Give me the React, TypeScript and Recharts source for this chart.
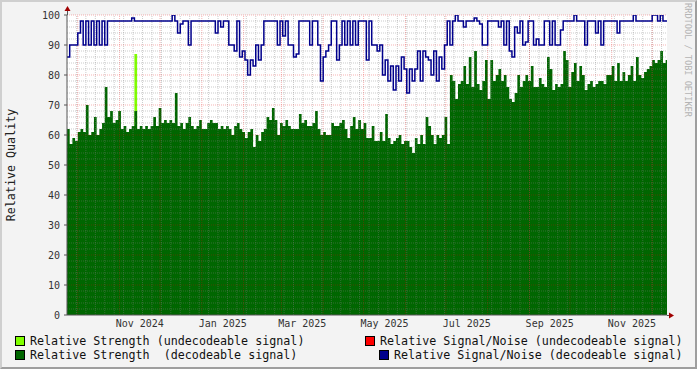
import { ComposedChart, Area, Line, XAxis, YAxis, ReferenceLine } from "recharts";

const DAY = 86400000;
const START = Date.UTC(2024, 8, 23);
const STEP_DAYS = 2;
const END = START + 445 * DAY;

// relative strength, decodeable signal (one value every 2 days)
const strength = [
  62, 57, 59, 58, 61, 62, 61, 70, 60, 61, 66, 60, 62, 64, 76, 66, 68, 64, 65, 68,
  62, 63, 61, 62, 63, 68, 62, 63, 62, 63, 62, 63, 66, 63, 69, 64, 65, 64, 65, 64,
  74, 63, 64, 62, 64,
  66, 63, 62, 63, 65, 62, 62, 64, 65, 64, 64, 62, 63, 62, 63, 62, 60, 63, 64, 62,
  61, 59, 61, 62, 56, 60, 58, 61, 62, 66, 65, 69, 65, 60, 64, 63, 65, 63, 62, 62,
  62, 67, 64, 65, 63,
  63, 64, 68, 62, 60, 61, 60, 60, 64, 63, 63, 64, 65, 62, 59, 63, 66, 62, 65, 62,
  64, 59, 59, 63, 58, 58, 61, 58, 67, 59, 57, 58, 59, 60, 57, 58, 58, 56, 54, 59,
  57, 60, 57, 66,
  63, 60, 57, 60, 59, 60, 66, 57, 80, 78, 72, 77, 78, 83, 77, 86, 76, 88, 77, 75,
  78, 85, 72, 85, 78, 80, 82, 78, 80, 76, 72, 71, 74, 80, 76, 78, 80, 78, 83, 76,
  76, 79, 77, 76,
  86, 82, 75, 77, 76, 77, 88, 85, 76, 81, 84, 78, 83, 80, 75, 77, 78, 76, 77, 78,
  78, 77, 80, 80, 83, 78, 84, 78, 81, 78, 80, 83, 78, 86, 80, 79, 81, 82, 83, 85,
  84, 85, 88, 84, 85,
];

// relative signal/noise, decodeable signal
const snr = [
  86, 90, 90, 90, 94, 98, 90, 98, 90, 98, 90, 98, 90, 98, 90, 98, 98, 98, 98, 98,
  98, 98, 98, 98, 99, 98, 98, 98, 98, 98, 98, 98, 98, 98, 98, 98, 98, 98, 98, 100,
  98, 94, 97, 98, 98,
  90, 98, 98, 98, 98, 98, 98, 98, 98, 98, 94, 98, 96, 98, 98, 90, 90, 88, 98, 86,
  88, 85, 80, 85, 83, 90, 85, 90, 98, 98, 98, 98, 98, 90, 98, 93, 98, 90, 90, 86,
  87, 98, 98, 98, 98,
  90, 98, 98, 90, 78, 86, 88, 90, 98, 98, 85, 90, 98, 90, 98, 90, 98, 90, 98, 98,
  98, 85, 98, 90, 90, 88, 90, 80, 85, 78, 83, 75, 83, 78, 86, 82, 74, 82, 78, 82,
  88, 78, 88, 86,
  85, 80, 88, 78, 86, 82, 90, 98, 90, 98, 100, 98, 98, 96, 98, 98, 98, 99, 98, 97,
  90, 90, 98, 98, 98, 98, 96, 98, 90, 98, 88, 86, 96, 94, 98, 90, 91, 98, 98, 90,
  92, 90, 90, 98,
  98, 90, 98, 90, 90, 95, 98, 98, 98, 98, 100, 98, 98, 98, 90, 98, 98, 98, 94, 98,
  90, 98, 98, 98, 98, 98, 94, 98, 98, 98, 98, 98, 100, 98, 98, 98, 98, 98, 98, 100,
  100, 98, 100, 98, 98,
];

// relative strength, undecodeable signal (sample index -> value)
const undecodeableAt = [25];
const undecodeableStrength = [87];

const xLabelMonths = ["2024-11", "2025-01", "2025-03", "2025-05", "2025-07", "2025-09", "2025-11"];
const xLabels = ["Nov 2024", "Jan 2025", "Mar 2025", "May 2025", "Jul 2025", "Sep 2025", "Nov 2025"];
const yTicks = [0, 10, 20, 30, 40, 50, 60, 70, 80, 90, 100];

const rows = strength.map((s, i) => {
  const k = undecodeableAt.indexOf(i);
  return {
    t: START + i * STEP_DAYS * DAY,
    strength: s,
    snr: snr[i],
    weak: k >= 0 ? undecodeableStrength[k] : 0,
  };
});
rows.push({ ...rows[rows.length - 1], t: END });

const labelTicks = xLabelMonths.map((m) => {
  const [y, mo] = m.split("-").map(Number);
  return (Date.UTC(y, mo - 1, 1) + Date.UTC(y, mo, 1)) / 2;
});

const monthStarts: number[] = [];
for (let d = new Date(Date.UTC(2024, 9, 1)); d.getTime() < END; d.setUTCMonth(d.getUTCMonth() + 1)) {
  monthStarts.push(d.getTime());
}
const weeks: number[] = [];
for (let t = START + 7 * DAY; t < END; t += 7 * DAY) weeks.push(t);
const yMinor: number[] = [];
for (let v = 2; v < 100; v += 2) if (v % 10 !== 0) yMinor.push(v);

const MONO = "'DejaVu Sans Mono', monospace";
const W = 697;
const H = 369;
const MARGIN = { top: 15, right: 30, bottom: 54, left: 67 };

const minor = { stroke: "#808080", strokeOpacity: 0.4, strokeDasharray: "1 1" };
const major = { stroke: "#e00000", strokeOpacity: 0.3, strokeDasharray: "1 1" };

const legend = [
  { color: "#80ff00", text: "Relative Strength (undecodeable signal)", left: 15, top: 336 },
  { color: "#006600", text: "Relative Strength  (decodeable signal)", left: 15, top: 350 },
  { color: "#ff0000", text: "Relative Signal/Noise (undecodeable signal)", left: 365, top: 336 },
  { color: "#00008c", text: "Relative Signal/Noise (decodeable signal)", left: 379, top: 350 },
];

export default function App() {
  return (
    <div
      style={{
        position: "absolute",
        left: 0,
        top: 0,
        width: W,
        height: H,
        boxSizing: "border-box",
        background: "#f3f3f3",
        borderTop: "2px solid #cfcfcf",
        borderLeft: "2px solid #cfcfcf",
        borderRight: "2px solid #9e9e9e",
        borderBottom: "2px solid #9e9e9e",
        fontFamily: MONO,
      }}
    >
      <div style={{ position: "absolute", left: -2, top: -2, width: W, height: H }}>
        <div style={{ position: "absolute", left: 67, top: 15, width: 600, height: 300, background: "#fff" }} />
        <div style={{ position: "absolute", left: 0, top: 0 }}>
          <ComposedChart width={W} height={H} data={rows} margin={MARGIN}>
            <XAxis dataKey="t" type="number" domain={[START, END]} hide allowDataOverflow />
            <YAxis domain={[0, 100]} hide allowDataOverflow />
            <Area
              type="stepAfter"
              dataKey="weak"
              fill="#80ff00"
              fillOpacity={1}
              stroke="none"
              isAnimationActive={false}
            />
            <Area
              type="stepAfter"
              dataKey="strength"
              fill="#006600"
              fillOpacity={1}
              stroke="none"
              isAnimationActive={false}
            />
          </ComposedChart>
        </div>
        <div style={{ position: "absolute", left: 0, top: 0 }}>
          <ComposedChart width={W} height={H} data={rows} margin={{ top: 15, right: 30, bottom: 0, left: 0 }}>
            <XAxis
              dataKey="t"
              type="number"
              domain={[START, END]}
              ticks={labelTicks}
              interval={0}
              tickFormatter={(v) => xLabels[labelTicks.indexOf(v)] ?? ""}
              tick={{ fontSize: 10, fill: "#333", fontFamily: MONO }}
              tickSize={0}
              tickMargin={5}
              height={54}
              axisLine={{ stroke: "#555" }}
              allowDataOverflow
            />
            <YAxis
              domain={[0, 100]}
              ticks={yTicks}
              interval={0}
              width={67}
              tick={{ fontSize: 10, fill: "#333", fontFamily: MONO }}
              tickSize={3}
              tickMargin={4}
              tickLine={{ stroke: "#555" }}
              axisLine={{ stroke: "#555" }}
              allowDataOverflow
            />
            {weeks.map((t) => (
              <ReferenceLine key={"w" + t} x={t} {...minor} />
            ))}
            {yMinor.map((v) => (
              <ReferenceLine key={"h" + v} y={v} {...minor} />
            ))}
            {monthStarts.map((t) => (
              <ReferenceLine key={"m" + t} x={t} {...major} />
            ))}
            {yTicks.slice(1).map((v) => (
              <ReferenceLine key={"H" + v} y={v} {...major} />
            ))}
            <Line
              type="stepAfter"
              dataKey="snr"
              stroke="#00008c"
              strokeWidth={1.5}
              dot={false}
              activeDot={false}
              isAnimationActive={false}
            />
          </ComposedChart>
        </div>
        <svg width={W} height={H} style={{ position: "absolute", left: 0, top: 0, pointerEvents: "none" }}>
          <line x1={67.5} y1={9} x2={67.5} y2={15} stroke="#555" />
          <polygon points="64.5,11 70.5,11 67.5,6" fill="#a00000" />
          <line x1={667} y1={315.5} x2={671} y2={315.5} stroke="#555" />
          <polygon points="669,312.5 669,318.5 674,315.5" fill="#a00000" />
        </svg>
        <div
          style={{
            position: "absolute",
            left: 11,
            top: 165,
            transform: "translate(-50%, -50%) rotate(-90deg)",
            whiteSpace: "nowrap",
            fontSize: 11.7,
            color: "#222",
          }}
        >
          Relative Quality
        </div>
        <div
          style={{
            position: "absolute",
            left: 688,
            top: 60,
            transform: "translate(-50%, -50%) rotate(90deg)",
            whiteSpace: "nowrap",
            fontSize: 8.6,
            color: "#b4b4b4",
          }}
        >
          RRDTOOL / TOBI OETIKER
        </div>
        {legend.map((l) => (
          <div key={l.text} style={{ position: "absolute", left: l.left, top: l.top, height: 10, display: "flex", alignItems: "center" }}>
            <div style={{ width: 8, height: 8, background: l.color, border: "1px solid #000" }} />
            <div style={{ marginLeft: 5, fontSize: 11.7, whiteSpace: "pre", color: "#111", lineHeight: "10px" }}>{l.text}</div>
          </div>
        ))}
      </div>
    </div>
  );
}
